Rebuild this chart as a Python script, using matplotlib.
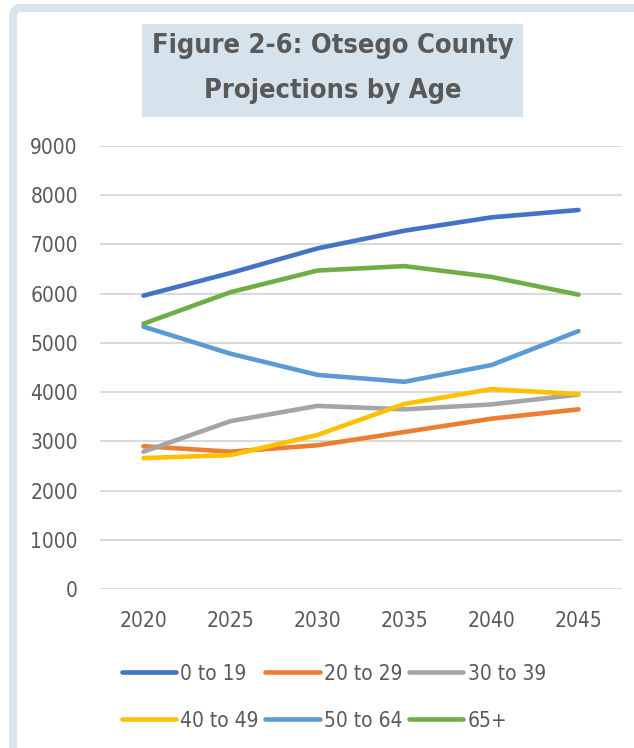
import matplotlib
matplotlib.use("Agg")
import matplotlib.pyplot as plt
from matplotlib.patches import Rectangle, FancyBboxPatch

years = ["2020", "2025", "2030", "2035", "2040", "2045"]
age_groups = ["0 to 19", "20 to 29", "30 to 39", "40 to 49", "50 to 64", "65+"]

age_0_19 = [5960, 6420, 6920, 7280, 7550, 7700]
age_20_29 = [2900, 2790, 2920, 3190, 3460, 3650]
age_30_39 = [2790, 3410, 3720, 3650, 3750, 3950]
age_40_49 = [2660, 2720, 3130, 3760, 4060, 3960]
age_50_64 = [5330, 4780, 4350, 4210, 4550, 5240]
age_65_up = [5390, 6030, 6470, 6560, 6340, 5980]

colors = ["#4472C4", "#ED7D31", "#A5A5A5", "#FFC000", "#5B9BD5", "#70AD47"]

FONT = "DejaVu Sans"
TXT = "#595959"
W, H = 634, 748

fig = plt.figure(figsize=(W / 100, H / 100), dpi=100)

# light blue frame running off the right and bottom edges
frame = FancyBboxPatch((13 / W, -0.1), 1.2, 1 - 8 / H + 0.1,
                       boxstyle="round,pad=0,rounding_size=0.012",
                       transform=fig.transFigure, fill=False,
                       edgecolor="#D9E4EC", linewidth=5.8)
fig.patches.append(frame)

# title box
fig.patches.append(Rectangle((142 / W, 1 - 117 / H), (523 - 142) / W, (117 - 24) / H,
                             transform=fig.transFigure, facecolor="#D6E3EC",
                             edgecolor="none"))
for line, base in [("Figure 2-6: Otsego County", 53), ("Projections by Age", 98)]:
    fig.text(333 / W, 1 - base / H, line, ha="center", va="baseline",
             family=FONT, stretch="condensed", weight="bold",
             fontsize=19.5, color=TXT)

ax = fig.add_axes([100 / W, (H - 589) / H, 522 / W, 443 / H])
series = [age_0_19, age_20_29, age_30_39, age_40_49, age_50_64, age_65_up]
handles = []
for label, vals, c in zip(age_groups, series, colors):
    h, = ax.plot(range(len(years)), vals, color=c, lw=3.3, label=label,
                 solid_capstyle="round", solid_joinstyle="round")
    handles.append(h)

ax.set_xlim(-0.5, len(years) - 0.5)
ax.set_ylim(0, 9000)
ax.set_yticks(range(0, 9001, 1000))
ax.set_xticks(range(len(years)))
ax.set_xticklabels(years)
ax.grid(axis="y", color="#D9D9D9", lw=1.4)
ax.set_axisbelow(True)
for s in ax.spines.values():
    s.set_visible(False)
ax.tick_params(length=0, labelsize=15, labelcolor=TXT)
ax.tick_params(axis="y", pad=16)
ax.tick_params(axis="x", pad=16)
for t in ax.get_xticklabels() + ax.get_yticklabels():
    t.set_family(FONT)
    t.set_stretch("condensed")

# legend, row-major order across 3 columns
order = [0, 3, 1, 4, 2, 5]
leg = fig.legend([handles[i] for i in order], [age_groups[i] for i in order],
                 ncol=3, loc="upper left", bbox_to_anchor=(103 / W, 1 - 645 / H),
                 frameon=False, handlelength=2.6, handletextpad=0.2,
                 columnspacing=0.33, labelspacing=1.29,
                 prop={"family": FONT, "stretch": "condensed", "size": 15})
for t in leg.get_texts():
    t.set_color(TXT)

fig.savefig("out.png", dpi=100)
